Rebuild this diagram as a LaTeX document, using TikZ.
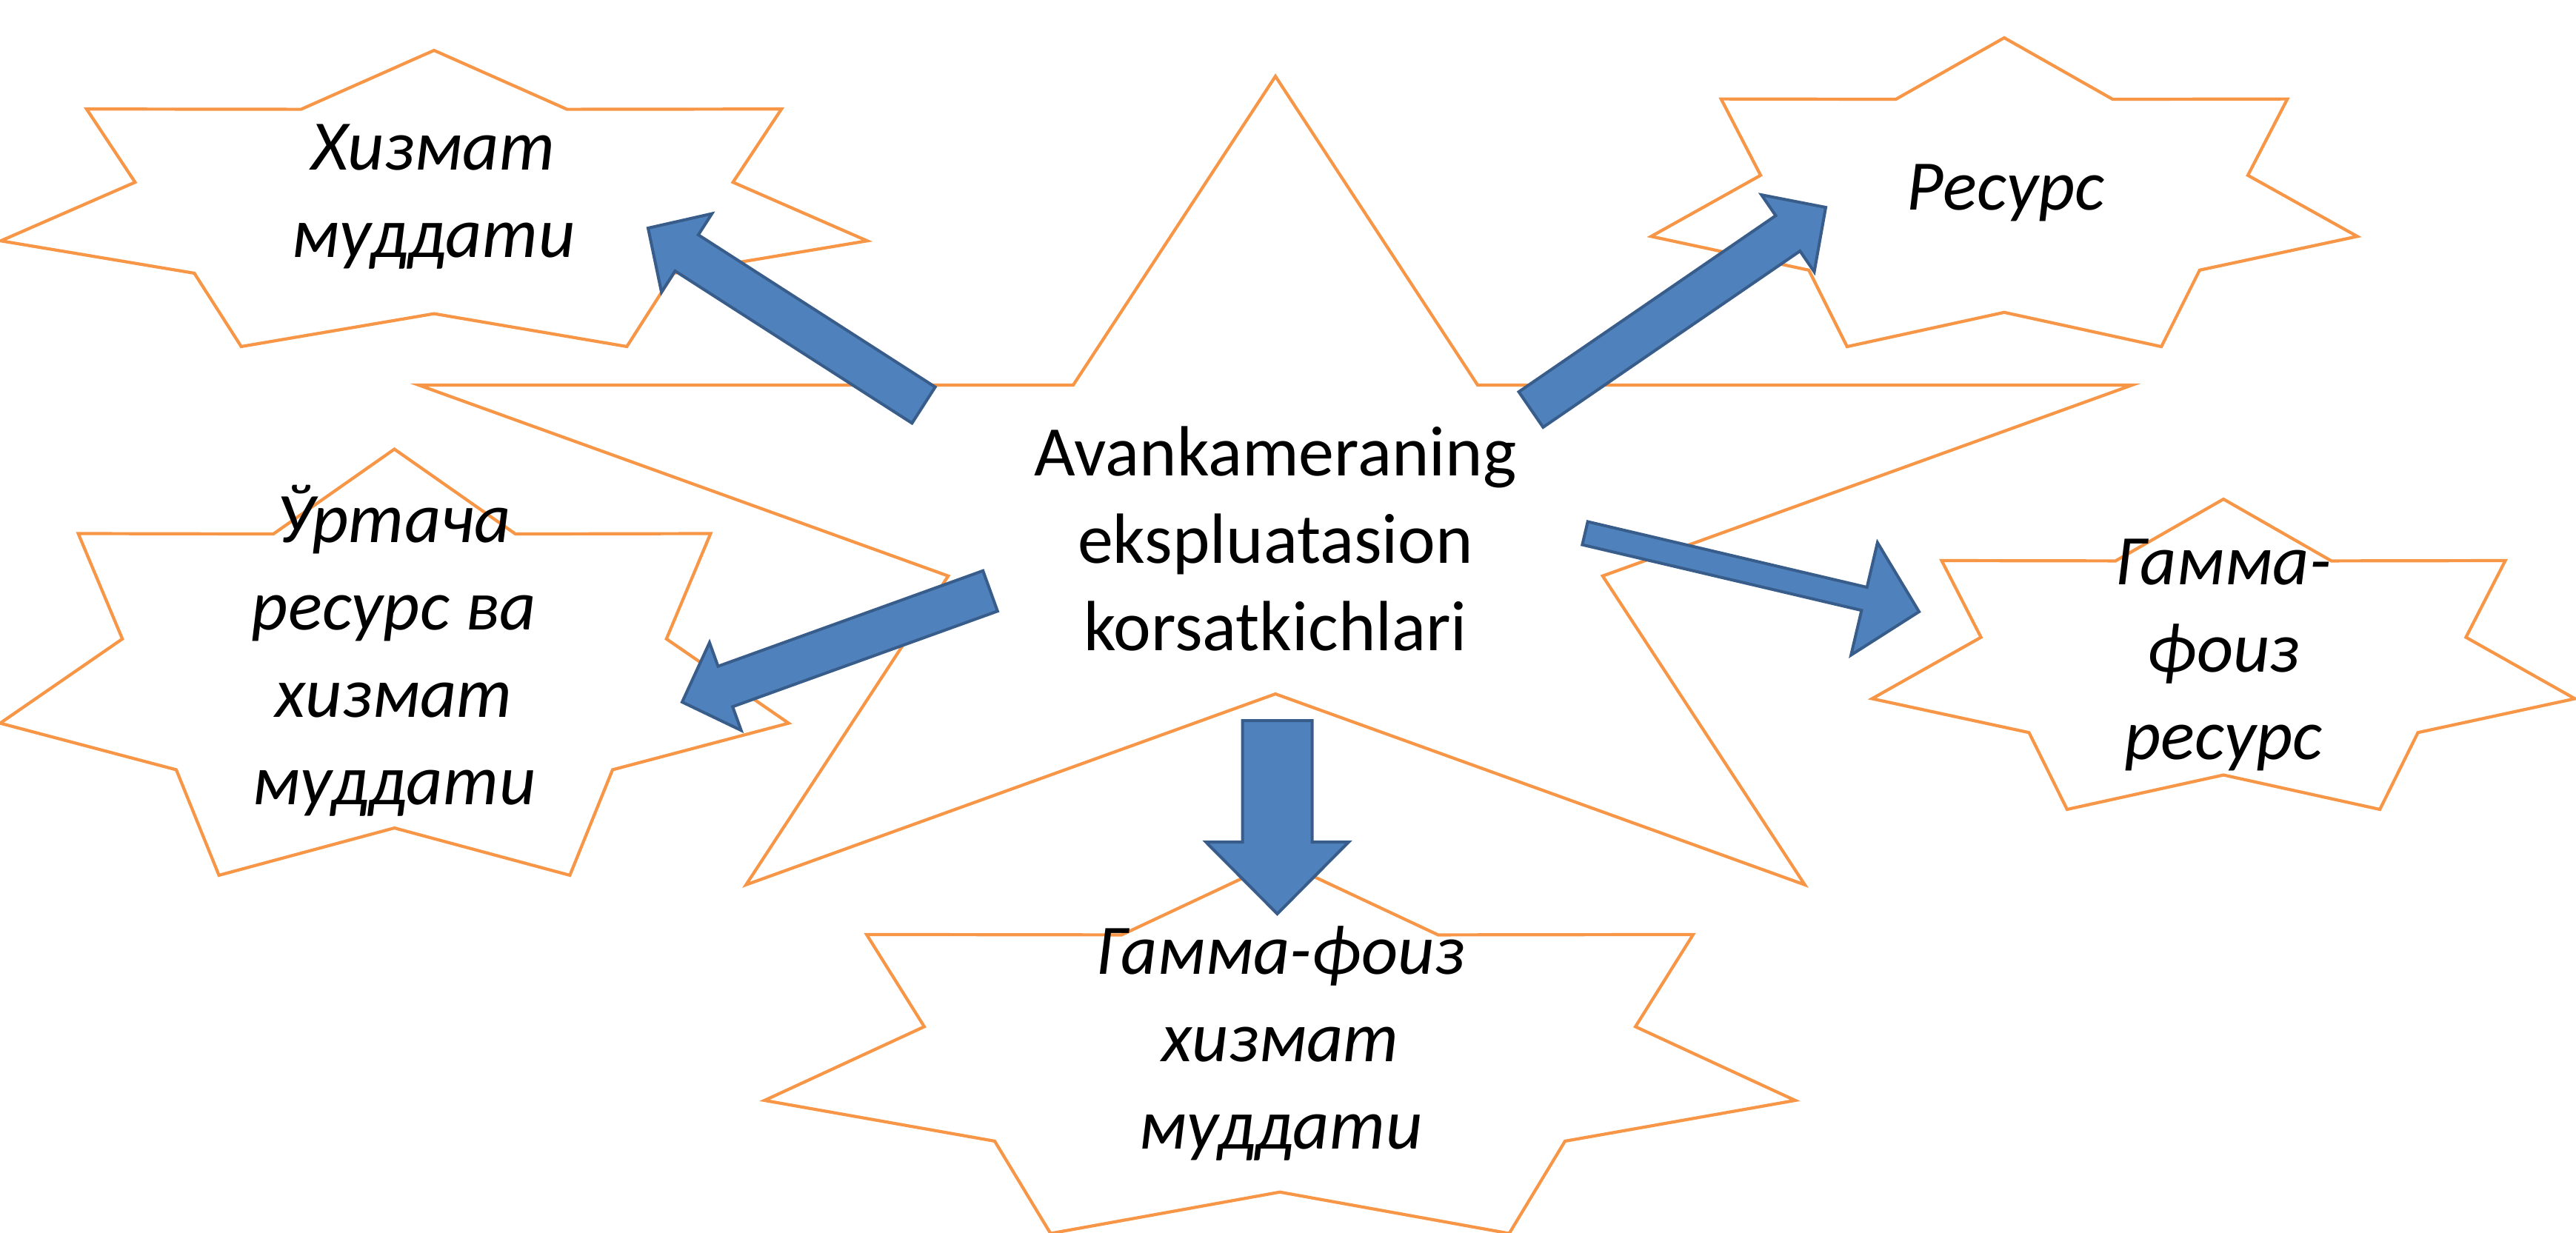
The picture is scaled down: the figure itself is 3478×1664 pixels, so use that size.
\documentclass[tikz,border=0pt]{standalone}
\usepackage{fontspec}
\setmainfont{Carlito}
\usetikzlibrary{calc}
\definecolor{starorange}{HTML}{F79646}
\definecolor{arrowfill}{HTML}{4F81BD}
\definecolor{arrowedge}{HTML}{385D8A}
\tikzset{
  starline/.style={draw=starorange, line width=1.05pt, fill=white, line join=miter},
  blockarr/.style={fill=arrowfill, draw=arrowedge, line width=1pt, line join=miter},
  lbl/.style={font=\fontsize{24}{29.5}\selectfont\itshape, align=center, inner sep=0pt},
  mainlbl/.style={font=\fontsize{24}{29.5}\selectfont, align=center, inner sep=0pt},
}
% #1 cx, #2 cy, #3 rx, #4 ry, #5 number of points, #6 inner ratio
\newcommand\mystarshape[6]{%
  \pgfmathtruncatemacro\mylaststep{2*#5-1}%
  \begin{scope}[shift={(#1,#2)}]
    \draw[starline] (-90:#3 and #4)
      \foreach \k in {1,...,\mylaststep} {
        -- ({-90+\k*180/#5}:{(1-(1-#6)*mod(\k,2))*#3} and {(1-(1-#6)*mod(\k,2))*#4})
      } -- cycle;
  \end{scope}}
% #1 tail, #2 tip, #3 half shaft, #4 half head, #5 head length
\newcommand\myblockarrow[5]{%
  \coordinate (ba-base) at ($(#2)!#5!(#1)$);
  \draw[blockarr] ($(#1)!#3!90:(#2)$) -- ($(ba-base)!#3!90:(#2)$)
    -- ($(ba-base)!#4!90:(#2)$) -- (#2) -- ($(ba-base)!#4!-90:(#2)$)
    -- ($(ba-base)!#3!-90:(#2)$) -- ($(#1)!#3!-90:(#2)$) -- cycle;}
\begin{document}
\begin{tikzpicture}[x=0.25pt,y=-0.25pt]
\useasboundingbox (0,0) rectangle (3478,1664);
% stars
\mystarshape{1722}{706.5}{1216}{603.5}{5}{0.382}
\mystarshape{586}{278.4}{600}{210.4}{7}{0.69}
\mystarshape{2706}{270.4}{489}{219.4}{7}{0.69}
\mystarshape{532.5}{909.2}{546}{302.7}{7}{0.69}
\mystarshape{3002}{894.4}{486.7}{220.4}{7}{0.69}
\mystarshape{1728}{1427}{713.7}{264.8}{7}{0.69}
% arrow end points
\coordinate (a1t) at (1247,547);  \coordinate (a1h) at (875,308);
\coordinate (a2t) at (2067,553);  \coordinate (a2h) at (2465,280);
\coordinate (a3t) at (1337,798);  \coordinate (a3h) at (921,948);
\coordinate (a4t) at (2140,720);  \coordinate (a4h) at (2591,826);
\coordinate (a5t) at (1724.5,973); \coordinate (a5h) at (1724.5,1234);
\myblockarrow{a1t}{a1h}{7.25pt}{15.75pt}{15.5pt}
\myblockarrow{a2t}{a2h}{7.25pt}{15.75pt}{15.5pt}
\myblockarrow{a3t}{a3h}{7.25pt}{15.75pt}{15.5pt}
\myblockarrow{a4t}{a4h}{4pt}{19.5pt}{19pt}
\myblockarrow{a5t}{a5h}{11.75pt}{24.1pt}{24.25pt}
% texts
\node[mainlbl] (center) at (1722,727) {Avankameraning\\ekspluatasion\\korsatkichlari};
\node[lbl] (srv) at (585,266) {Хизмат\\муддати};
\node[lbl] (res) at (2708,260) {Ресурс};
\node[lbl] (avg) at (532,879) {Ўртача\\ресурс ва\\хизмат\\муддати};
\node[lbl] (gres) at (3002,884) {Гамма-\\фоиз\\ресурс};
\node[lbl] (gsrv) at (1729,1409) {Гамма-фоиз\\хизмат\\муддати};
\end{tikzpicture}
\end{document}
